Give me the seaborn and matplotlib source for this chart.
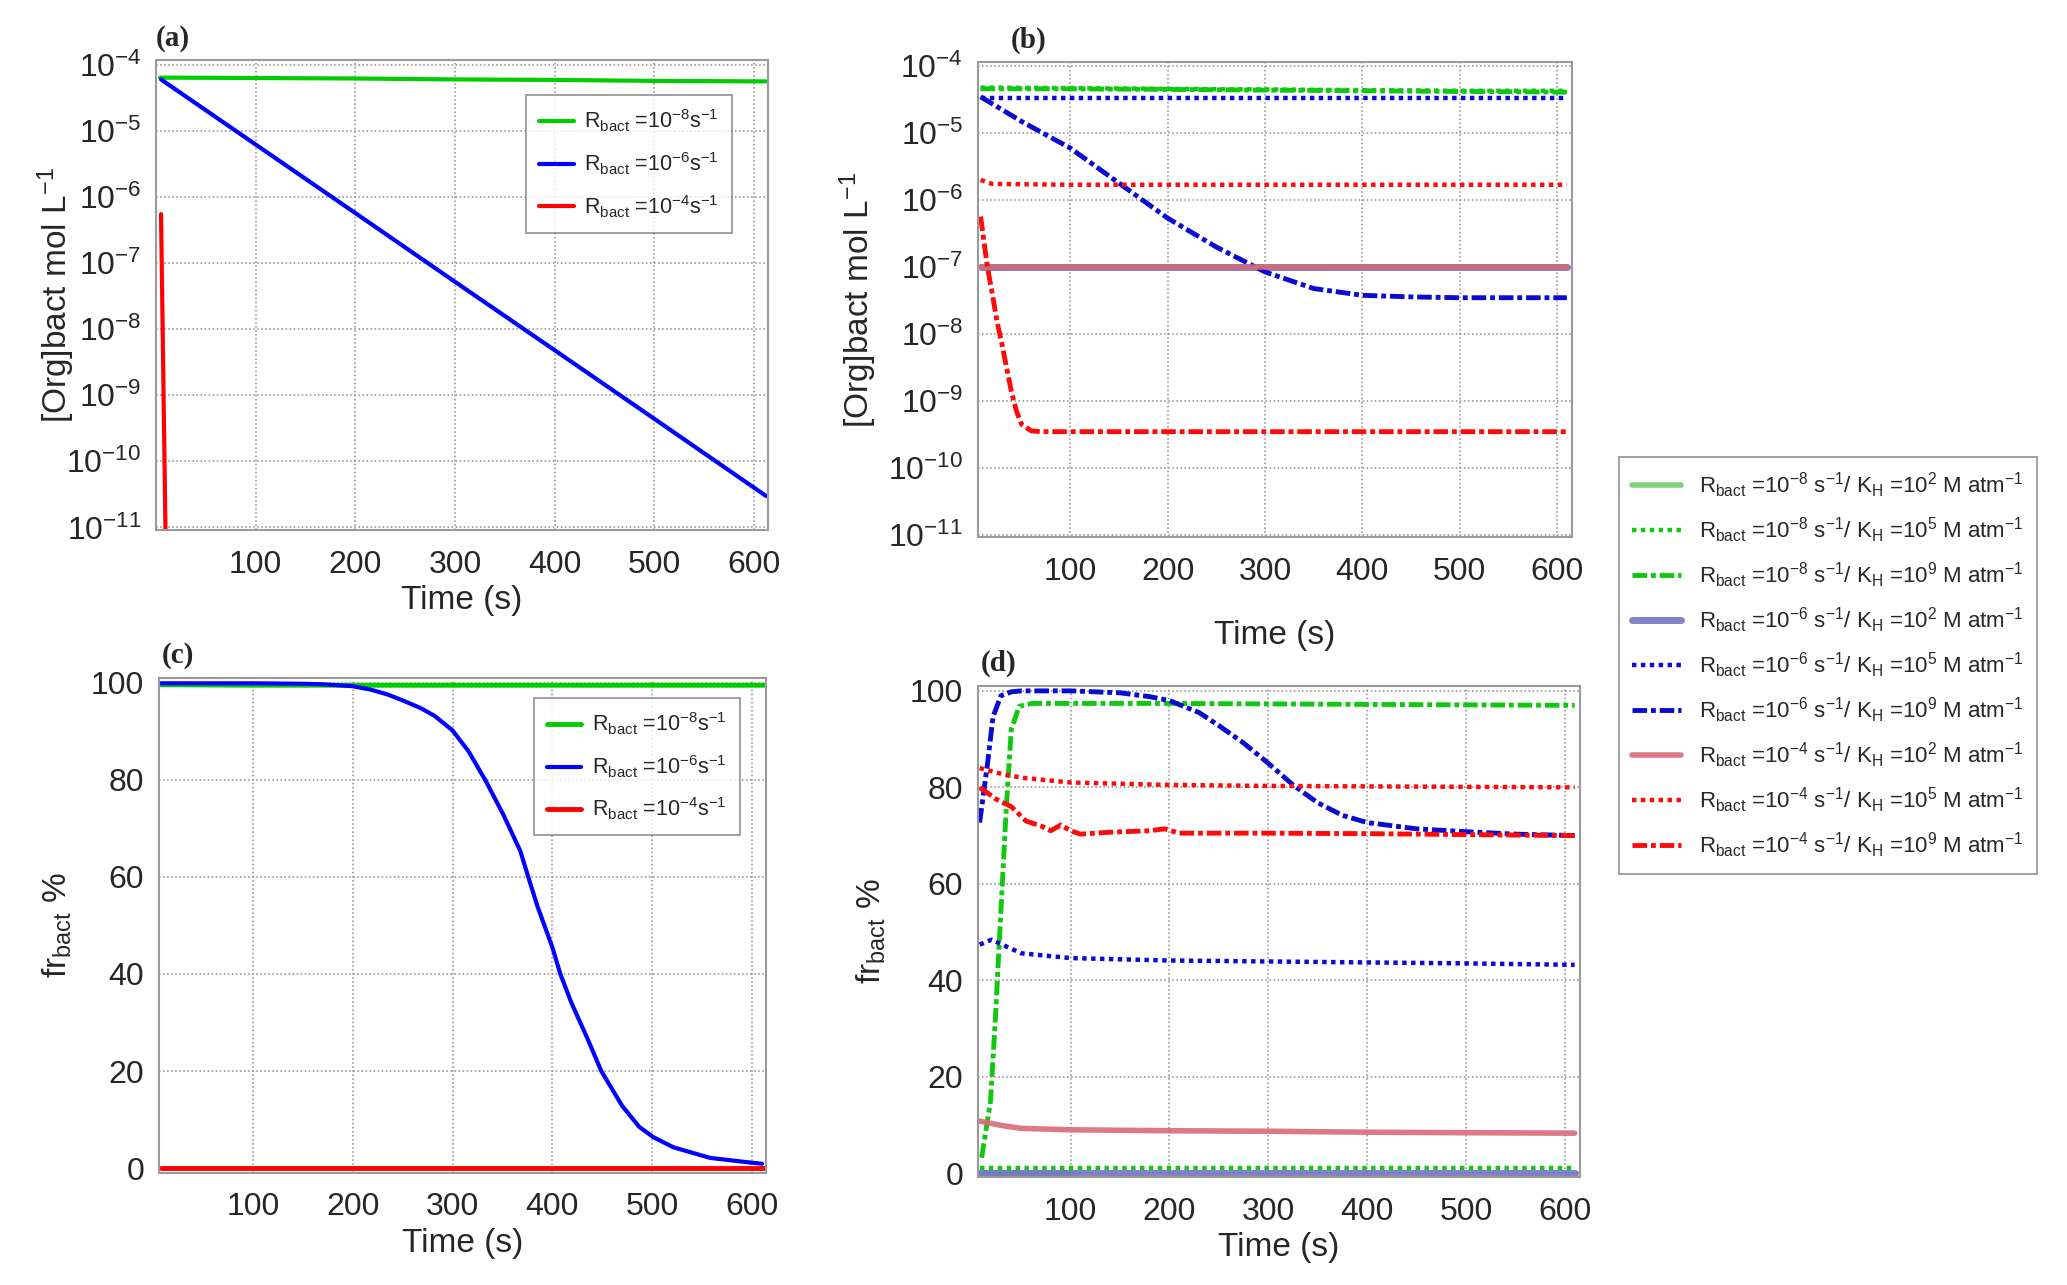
import numpy as np
import pandas as pd
import matplotlib
matplotlib.use("Agg")
import matplotlib.pyplot as plt
import seaborn as sns

sns.set_style("white")
plt.rcParams['font.family'] = ['Liberation Sans', 'DejaVu Sans']
plt.rcParams['mathtext.fontset'] = 'custom'
plt.rcParams['mathtext.rm'] = 'Liberation Sans'
plt.rcParams['mathtext.it'] = 'Liberation Sans:italic'
plt.rcParams['mathtext.bf'] = 'Liberation Sans:bold'

# ---------------- data ----------------
# panel (a): [Org]bact vs time, three Rbact values
t_a_green = [4, 100, 200, 300, 400, 500, 612]
a_green = [6.4e-5, 6.3e-5, 6.2e-5, 6.0e-5, 5.9e-5, 5.7e-5, 5.6e-5]
t_a_blue = [5, 100, 200, 300, 400, 500, 612]
a_blue = [6.0e-5, 6.2e-6, 5.7e-7, 5.2e-8, 4.8e-9, 4.4e-10, 3.0e-11]
t_a_red = [5, 9.5]
a_red = [5.5e-7, 8e-12]

# panel (c): fraction in bacteria (%)
t_c_green = [8, 100, 200, 300, 400, 500, 612]
c_green = [99.6, 99.5, 99.5, 99.5, 99.5, 99.5, 99.5]
t_c_blue = [8, 100, 150, 170, 200, 218, 235, 251, 268, 282, 300, 316, 333,
            351, 368, 376, 385, 400, 408, 419, 436, 449, 470, 487, 501, 521,
            558, 600, 610]
c_blue = [99.9, 99.9, 99.8, 99.7, 99.3, 98.6, 97.6, 96.3, 94.8, 93.2, 90.2,
          85.9, 79.9, 72.8, 65.3, 59.9, 54.0, 45.5, 40.0, 34.1, 26.3, 20.0,
          12.8, 8.5, 6.4, 4.3, 2.1, 1.1, 0.9]
t_c_red = [8, 612]
c_red = [0.0, 0.0]

# panels (b) and (d): nine Rbact / KH combinations
t_flat = [8, 100, 200, 300, 400, 500, 610]
b_g2 = [1e-7, 1e-7, 1e-7, 1e-7, 1e-7, 1e-7, 1e-7]
b_g5 = [4.8e-5, 4.7e-5, 4.6e-5, 4.5e-5, 4.4e-5, 4.3e-5, 4.3e-5]
b_g9 = [4.6e-5, 4.6e-5, 4.5e-5, 4.4e-5, 4.3e-5, 4.2e-5, 4.1e-5]
b_b2 = [1e-7, 1e-7, 1e-7, 1e-7, 1e-7, 1e-7, 1e-7]
b_b5 = [3.3e-5, 3.3e-5, 3.3e-5, 3.3e-5, 3.3e-5, 3.3e-5, 3.3e-5]
t_b_b9 = [8, 50, 100, 150, 200, 250, 300, 350, 400, 450, 500, 550, 610]
b_b9 = [3.5e-5, 1.5e-5, 6e-6, 1.8e-6, 5.4e-7, 2e-7, 8.5e-8, 4.8e-8, 3.8e-8,
        3.6e-8, 3.5e-8, 3.5e-8, 3.5e-8]
b_r2 = [1e-7, 1e-7, 1e-7, 1e-7, 1e-7, 1e-7, 1e-7]
t_b_r5 = [8, 20, 100, 200, 300, 400, 500, 610]
b_r5 = [2.0e-6, 1.75e-6, 1.7e-6, 1.7e-6, 1.7e-6, 1.7e-6, 1.7e-6, 1.7e-6]
t_b_r9 = [8, 15, 20, 25, 30, 35, 40, 45, 50, 60, 70, 100, 300, 610]
b_r9 = [5.7e-7, 1e-7, 4e-8, 1.5e-8, 7e-9, 3e-9, 1.3e-9, 7e-10, 4.5e-10,
        3.6e-10, 3.5e-10, 3.5e-10, 3.5e-10, 3.5e-10]

t_d_g2 = [8, 100]
d_g2 = [0.0, 0.0]
d_g5 = [1.0, 1.0, 1.0, 1.0, 1.0, 1.0, 1.0]
t_d_g9 = [10, 19, 24, 29.5, 35, 40, 48, 61, 100, 200, 300, 400, 500, 610]
d_g9 = [3.2, 15, 32.5, 54.4, 76, 92, 96.8, 97.4, 97.4, 97.4, 97.3, 97.2,
        97.1, 97.0]
d_b2 = [0.0, 0.0, 0.0, 0.0, 0.0, 0.0, 0.0]
t_d_b5 = [8, 20, 50, 100, 200, 300, 400, 500, 610]
d_b5 = [47.4, 48.4, 45.6, 44.6, 44.1, 43.9, 43.7, 43.5, 43.2]
t_d_b9 = [8, 16, 21.5, 29.5, 40, 50, 100, 150, 180, 200, 230, 250, 275, 300,
          325, 350, 375, 400, 450, 500, 550, 610]
d_b9 = [72.7, 85, 94.6, 99, 99.8, 100, 100, 99.6, 98.8, 98, 95.5, 92.8, 89.2,
        85, 80.5, 76.8, 74.2, 72.7, 71.4, 70.8, 70.3, 70.0]
t_d_r2 = [8, 30, 50, 100, 200, 300, 400, 500, 610]
d_r2 = [10.8, 9.9, 9.3, 9.0, 8.8, 8.7, 8.5, 8.4, 8.3]
t_d_r5 = [8, 30, 50, 100, 200, 300, 400, 500, 610]
d_r5 = [84, 82.8, 82, 81, 80.5, 80.3, 80.2, 80.1, 80.0]
t_d_r9 = [8, 25, 40, 55, 70, 80, 90, 100, 110, 140, 180, 195, 210, 300,
          400, 500, 610]
d_r9 = [80, 77.5, 76, 73, 72, 71, 72.2, 71, 70.3, 70.7, 71, 71.4, 70.5,
        70.5, 70.4, 70.2, 70.0]

rates = ['-8', '-8', '-8', '-6', '-6', '-6', '-4', '-4', '-4']
khs = ['2', '5', '9', '2', '5', '9', '2', '5', '9']

# ---------------- styles ----------------
GREEN, BLUE, RED = '#00cc00', '#0000ff', '#ff0000'
DOT = (0, (1, 1))
DASHDOT = (0, (3, 0.8, 1, 0.8))
styles = [
    dict(color='#6fd06f', linestyle='-', lw=4, alpha=0.9),
    dict(color='#11c811', linestyle=DOT, lw=3.2),
    dict(color='#11c811', linestyle=DASHDOT, lw=3.5),
    dict(color='#7474c4', linestyle='-', lw=5, alpha=0.9),
    dict(color='#0a0ad0', linestyle=DOT, lw=3.2),
    dict(color='#0a0ad0', linestyle=DASHDOT, lw=3.5),
    dict(color='#d86a78', linestyle='-', lw=4, alpha=0.9),
    dict(color='#ff0a0a', linestyle=DOT, lw=3.2),
    dict(color='#ff0a0a', linestyle=DASHDOT, lw=3.5),
]

fig = plt.figure(figsize=(20.67, 12.85), dpi=100)
ax_a = fig.add_axes([0.0755, 0.5875, 0.296, 0.3657])
ax_b = fig.add_axes([0.473, 0.582, 0.2874, 0.3696])
ax_c = fig.add_axes([0.0769, 0.0872, 0.2937, 0.3852])
ax_d = fig.add_axes([0.473, 0.084, 0.2912, 0.3821])

TICK_FS = 23
LAB_FS = 24


def style_axes(ax, logy):
    for s in ax.spines.values():
        s.set_color('#9a9a9a')
        s.set_linewidth(1.5)
    ax.grid(True, which='major', color='#8c8c8c', linestyle=':', lw=1.1)
    ax.tick_params(axis='both', which='major', labelsize=TICK_FS,
                   direction='out', length=7, color='#555555', width=1.2)
    ax.tick_params(axis='x', which='major', length=0, pad=14)
    ax.set_xticks([100, 200, 300, 400, 500, 600])
    if logy:
        ax.set_yscale('log')
        ax.yaxis.set_major_locator(matplotlib.ticker.LogLocator(base=10, numticks=12))
        ax.yaxis.set_minor_locator(matplotlib.ticker.LogLocator(
            base=10, subs=np.arange(2, 10), numticks=12))
        ax.yaxis.set_minor_formatter(matplotlib.ticker.NullFormatter())
        ax.tick_params(axis='y', which='minor', length=4, color='#777777', width=1)
    else:
        ax.set_yticks([0, 20, 40, 60, 80, 100])
    ax.set_xlabel('Time (s)', fontsize=LAB_FS)


def simple_legend(ax, anchor):
    leg = ax.legend(loc='upper left', bbox_to_anchor=anchor, fontsize=15.5,
                    frameon=True, fancybox=False, handlelength=1.6,
                    borderpad=0.6, labelspacing=0.75, handletextpad=0.5,
                    borderaxespad=0)
    leg.get_frame().set_edgecolor('#808080')
    leg.get_frame().set_linewidth(1.3)


def rlabel(r):
    return r'R$_{\rm bact}$ =10$^{' + r + r'}$s$^{-1}$'


# ---- (a)
sns.lineplot(x=t_a_green, y=a_green, ax=ax_a, color=GREEN, lw=3, label=rlabel('-8'))
sns.lineplot(x=t_a_blue, y=a_blue, ax=ax_a, color=BLUE, lw=3, label=rlabel('-6'))
sns.lineplot(x=t_a_red, y=a_red, ax=ax_a, color=RED, lw=3, label=rlabel('-4'))
style_axes(ax_a, True)
ax_a.set_xlim(0, 614)
ax_a.set_ylim(10 ** -11.04, 10 ** -3.93)
ax_a.set_ylabel('[Org]bact mol L$^{-1}$', fontsize=LAB_FS)
ax_a.yaxis.set_label_coords(-0.13, 0.5)
simple_legend(ax_a, (0.605, 0.926))

# ---- (c)
sns.lineplot(x=t_c_green, y=c_green, ax=ax_c, color=GREEN, lw=3.5, label=rlabel('-8'))
sns.lineplot(x=t_c_blue, y=c_blue, ax=ax_c, color=BLUE, lw=3, label=rlabel('-6'))
sns.lineplot(x=t_c_red, y=c_red, ax=ax_c, color=RED, lw=3.5, label=rlabel('-4'))
style_axes(ax_c, False)
ax_c.set_xlim(6, 614)
ax_c.set_ylim(-1, 101)
ax_c.set_ylabel('fr$_{\\rm bact}$ %', fontsize=LAB_FS)
ax_c.yaxis.set_label_coords(-0.14, 0.5)
simple_legend(ax_c, (0.618, 0.96))

# ---- (b) and (d)
b_series = [(t_flat, b_g2), (t_flat, b_g5), (t_flat, b_g9),
            (t_flat, b_b2), (t_flat, b_b5), (t_b_b9, b_b9),
            (t_flat, b_r2), (t_b_r5, b_r5), (t_b_r9, b_r9)]
d_series = [(t_d_g2, d_g2), (t_flat, d_g5), (t_d_g9, d_g9),
            (t_flat, d_b2), (t_d_b5, d_b5), (t_d_b9, d_b9),
            (t_d_r2, d_r2), (t_d_r5, d_r5), (t_d_r9, d_r9)]

labels = []
for r, k in zip(rates, khs):
    labels.append(r'R$_{\rm bact}$ =10$^{' + r + r'}$ s$^{-1}$/ K$_{\rm H}$ =10$^{'
                  + k + r'}$ M atm$^{-1}$')

for (tt, yy), st, lab in zip(b_series, styles, labels):
    sns.lineplot(x=tt, y=yy, ax=ax_b, label=lab, legend=False, **st)
for (tt, yy), st in zip(d_series, styles):
    sns.lineplot(x=tt, y=yy, ax=ax_d, legend=False, **st)

style_axes(ax_b, True)
ax_b.set_xlim(5, 615)
ax_b.set_ylim(10 ** -11.03, 10 ** -3.94)
ax_b.set_ylabel('[Org]bact mol L$^{-1}$', fontsize=LAB_FS)
ax_b.yaxis.set_label_coords(-0.166, 0.5)
ax_b.xaxis.labelpad = 24

style_axes(ax_d, False)
ax_d.set_xlim(6, 615)
ax_d.set_ylim(-0.8, 101)
ax_d.set_ylabel('fr$_{\\rm bact}$ %', fontsize=LAB_FS)
ax_d.yaxis.set_label_coords(-0.149, 0.5)

handles = ax_b.get_lines()[:9]
if ax_b.get_legend() is not None:
    ax_b.get_legend().remove()
leg = fig.legend(handles, labels, loc='upper left', bbox_to_anchor=(0.7833, 0.6444),
                 fontsize=16, frameon=True, fancybox=False, handlelength=2.2,
                 borderpad=0.6, labelspacing=0.7, handletextpad=0.8,
                 borderaxespad=0)
leg.get_frame().set_edgecolor('#808080')
leg.get_frame().set_linewidth(1.3)

# panel letters
for ax, letter, dx in [(ax_a, '(a)', 0.0), (ax_b, '(b)', 0.055),
                       (ax_c, '(c)', 0.005), (ax_d, '(d)', 0.005)]:
    ax.text(dx, 1.018, letter, transform=ax.transAxes, fontsize=21,
            fontweight='bold', family='Liberation Serif', va='bottom', ha='left')

fig.savefig('out.png', dpi=100)
